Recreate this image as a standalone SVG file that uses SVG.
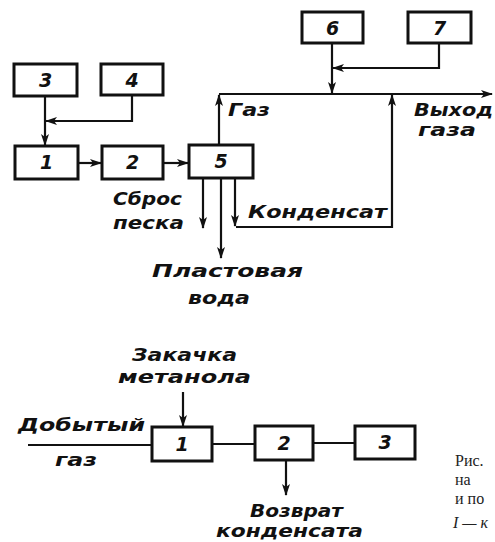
<svg xmlns="http://www.w3.org/2000/svg" width="495" height="542" viewBox="0 0 495 542">
<style>
.box{fill:#fff;stroke:#111;stroke-width:3}
.ln{fill:none;stroke:#111;stroke-width:2.2}
.num{font-family:"DejaVu Sans",sans-serif;font-style:italic;font-weight:bold;font-size:19px;fill:#111;text-anchor:middle}
.lbl{font-family:"DejaVu Sans",sans-serif;font-style:italic;font-weight:bold;font-size:18px;fill:#111}
.cap{font-family:"Liberation Serif",serif;font-size:16px;fill:#222}
</style>
<defs>
<marker id="ah" markerUnits="userSpaceOnUse" markerWidth="12" markerHeight="8" refX="11" refY="4" orient="auto">
<path d="M0,0 L12,4 L0,8 L3,4 z" fill="#111"/>
</marker>
</defs>
<rect width="495" height="542" fill="#fff"/>
<g id="connectors">
<path class="ln" d="M45,96 V145" marker-end="url(#ah)"/>
<path class="ln" d="M132,96 V121 H46" marker-end="url(#ah)"/>
<path class="ln" d="M78,163 H101" marker-end="url(#ah)"/>
<path class="ln" d="M163,163 H188" marker-end="url(#ah)"/>
<path class="ln" d="M219,145 V95" marker-end="url(#ah)"/>
<path class="ln" d="M219,94 H492" marker-end="url(#ah)"/>
<path class="ln" d="M332,43 V93" marker-end="url(#ah)"/>
<path class="ln" d="M439,43 V68 H333" marker-end="url(#ah)"/>
<path class="ln" d="M203,178 V228" marker-end="url(#ah)"/>
<path class="ln" d="M221,178 V258" marker-end="url(#ah)"/>
<path class="ln" d="M235,178 V226" marker-end="url(#ah)"/>
<path class="ln" d="M236,227 H392 V95" marker-end="url(#ah)"/>
<path class="ln" d="M28,445 H152"/>
<path class="ln" d="M212,444 H255"/>
<path class="ln" d="M313,443 H355"/>
<path class="ln" d="M183,392 V426" marker-end="url(#ah)"/>
<path class="ln" d="M286,460 V495" marker-end="url(#ah)"/>
</g>
<g id="n3"><rect class="box" x="14" y="64" width="63" height="32"/><text class="num" x="45.5" y="87">3</text></g>
<g id="n4"><rect class="box" x="101" y="64" width="62" height="31"/><text class="num" x="132" y="87">4</text></g>
<g id="n1"><rect class="box" x="15" y="146" width="63" height="33"/><text class="num" x="46.5" y="169">1</text></g>
<g id="n2"><rect class="box" x="102" y="146" width="61" height="33"/><text class="num" x="132.5" y="169">2</text></g>
<g id="n5"><rect class="box" x="189" y="145" width="64" height="33"/><text class="num" x="221" y="168">5</text></g>
<g id="n6"><rect class="box" x="302" y="12" width="61" height="31"/><text class="num" x="332.5" y="35">6</text></g>
<g id="n7"><rect class="box" x="408" y="12" width="63" height="31"/><text class="num" x="439.5" y="35">7</text></g>
<g id="b1"><rect class="box" x="152" y="427" width="60" height="34"/><text class="num" x="182" y="451">1</text></g>
<g id="b2"><rect class="box" x="255" y="426" width="58" height="34"/><text class="num" x="284" y="450">2</text></g>
<g id="b3"><rect class="box" x="355" y="426" width="60" height="33"/><text class="num" x="385" y="449">3</text></g>
<g id="labels">
<text class="lbl" x="228" y="116" textLength="42" lengthAdjust="spacingAndGlyphs">Газ</text>
<text class="lbl" x="414" y="116" textLength="79" lengthAdjust="spacingAndGlyphs">Выход</text>
<text class="lbl" x="418" y="136" textLength="58" lengthAdjust="spacingAndGlyphs">газа</text>
<text class="lbl" x="113" y="205" textLength="69" lengthAdjust="spacingAndGlyphs">Сброс</text>
<text class="lbl" x="113" y="229" textLength="71" lengthAdjust="spacingAndGlyphs">песка</text>
<text class="lbl" x="248" y="218" textLength="139" lengthAdjust="spacingAndGlyphs">Конденсат</text>
<text class="lbl" x="152" y="277" textLength="151" lengthAdjust="spacingAndGlyphs">Пластовая</text>
<text class="lbl" x="188" y="304" textLength="62" lengthAdjust="spacingAndGlyphs">вода</text>
<text class="lbl" x="132" y="361" textLength="105" lengthAdjust="spacingAndGlyphs">Закачка</text>
<text class="lbl" x="118" y="383" textLength="133" lengthAdjust="spacingAndGlyphs">метанола</text>
<text class="lbl" x="18" y="431" textLength="127" lengthAdjust="spacingAndGlyphs">Добытый</text>
<text class="lbl" x="55" y="466" textLength="42" lengthAdjust="spacingAndGlyphs">газ</text>
<text class="lbl" x="250" y="517" textLength="93" lengthAdjust="spacingAndGlyphs">Возврат</text>
<text class="lbl" x="216" y="537" textLength="147" lengthAdjust="spacingAndGlyphs">конденсата</text>
<text class="cap" x="455" y="466">Рис.</text>
<text class="cap" x="455" y="485">на</text>
<text class="cap" x="455" y="504">и по</text>
<text class="cap" x="453" y="528" font-style="italic" font-size="14">I — к</text>
</g>
</svg>
